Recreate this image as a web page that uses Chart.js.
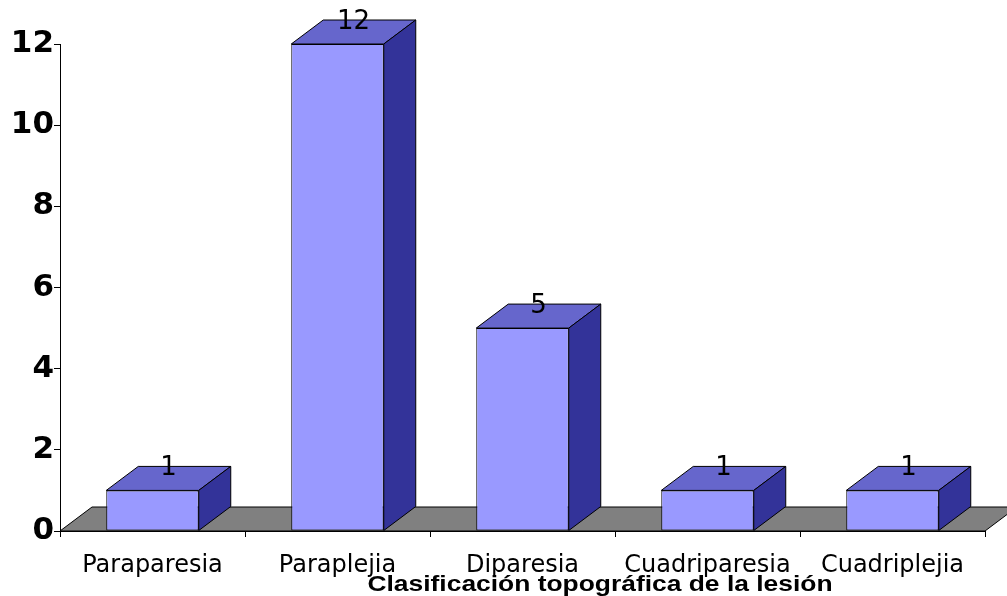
<!DOCTYPE html>
<html>
<head>
<meta charset="utf-8">
<script src="https://cdn.jsdelivr.net/npm/chart.js@4"></script>
<style>
  html, body { margin: 0; padding: 0; background: #fff; }
  #wrap { width: 1007px; height: 596px; position: relative; }
</style>
</head>
<body>
<div id="wrap"><canvas id="lesionChart"></canvas></div>
<script>
const categories = ['Paraparesia', 'Paraplejia', 'Diparesia', 'Cuadriparesia', 'Cuadriplejia'];
const counts = [1, 12, 5, 1, 1];
const yTicks = [0, 2, 4, 6, 8, 10, 12];
const axisTitle = 'Clasificación topográfica de la lesión';

// depth of the fake 3D extrusion
const DX = 32;
const DY = -24;

function poly(ctx, pts, fill) {
    ctx.beginPath();
    ctx.moveTo(pts[0][0], pts[0][1]);
    for (let i = 1; i < pts.length; i++) ctx.lineTo(pts[i][0], pts[i][1]);
    ctx.closePath();
    ctx.fillStyle = fill;
    ctx.fill();
    ctx.strokeStyle = '#000';
    ctx.lineWidth = 1;
    ctx.stroke();
}

const bars3d = {
    id: 'bars3d',
    beforeDatasetsDraw(chart) {
        const ctx = chart.ctx;
        const a = chart.chartArea;
        ctx.save();
        // grey floor under the bars
        poly(ctx, [[a.left, a.bottom], [a.right, a.bottom], [a.right + DX, a.bottom + DY], [a.left + DX, a.bottom + DY]], '#808080');
        ctx.restore();
    },
    afterDatasetsDraw(chart) {
        const ctx = chart.ctx;
        const meta = chart.getDatasetMeta(0);
        ctx.save();
        meta.data.forEach((bar, i) => {
            const l = bar.x - bar.width / 2;
            const r = bar.x + bar.width / 2;
            const t = bar.y;
            const b = bar.base;
            poly(ctx, [[l, t], [r, t], [r + DX, t + DY], [l + DX, t + DY]], '#6666CC');
            poly(ctx, [[r, t], [r + DX, t + DY], [r + DX, b + DY], [r, b]], '#333399');
            ctx.fillStyle = '#000';
            ctx.font = '26px "DejaVu Sans"';
            ctx.textAlign = 'center';
            ctx.textBaseline = 'middle';
            ctx.fillText(String(counts[i]), bar.x + 16, t - 22);
        });
        ctx.restore();
    },
    afterDraw(chart) {
        const ctx = chart.ctx;
        ctx.save();
        ctx.fillStyle = '#000';
        ctx.font = 'bold 22px "Liberation Sans"';
        ctx.textAlign = 'center';
        ctx.textBaseline = 'alphabetic';
        ctx.translate(600, 591);
        ctx.scale(1.2, 1);
        ctx.fillText(axisTitle, 0, 0);
        ctx.restore();
    }
};

new Chart(document.getElementById('lesionChart'), {
    type: 'bar',
    data: {
        labels: categories,
        datasets: [{
            data: counts,
            backgroundColor: '#9999FF',
            borderColor: '#000',
            borderWidth: 1,
            borderSkipped: false,
            barPercentage: 0.5,
            categoryPercentage: 1.0
        }]
    },
    options: {
        responsive: true,
        maintainAspectRatio: false,
        animation: false,
        layout: { padding: { top: 44, right: 22, left: 0, bottom: 0 } },
        plugins: {
            legend: { display: false },
            tooltip: { enabled: false }
        },
        scales: {
            x: {
                offset: true,
                afterFit: s => { s.height = 65; },
                grid: { display: true, drawOnChartArea: false, offset: true, tickLength: 6, color: '#000' },
                border: { color: '#000', width: 1 },
                ticks: { color: '#000', font: { family: 'DejaVu Sans', size: 24 }, padding: 14, maxRotation: 0 }
            },
            y: {
                min: 0,
                max: 12,
                afterFit: s => { s.width = 60; },
                afterBuildTicks: s => { s.ticks = yTicks.map(v => ({ value: v })); },
                grid: { display: true, drawOnChartArea: false, tickLength: 6, color: '#000' },
                border: { color: '#000', width: 1 },
                ticks: { color: '#000', font: { family: 'DejaVu Sans', size: 31, weight: 'bold' }, padding: 0 }
            }
        }
    },
    plugins: [bars3d]
});
</script>
</body>
</html>
